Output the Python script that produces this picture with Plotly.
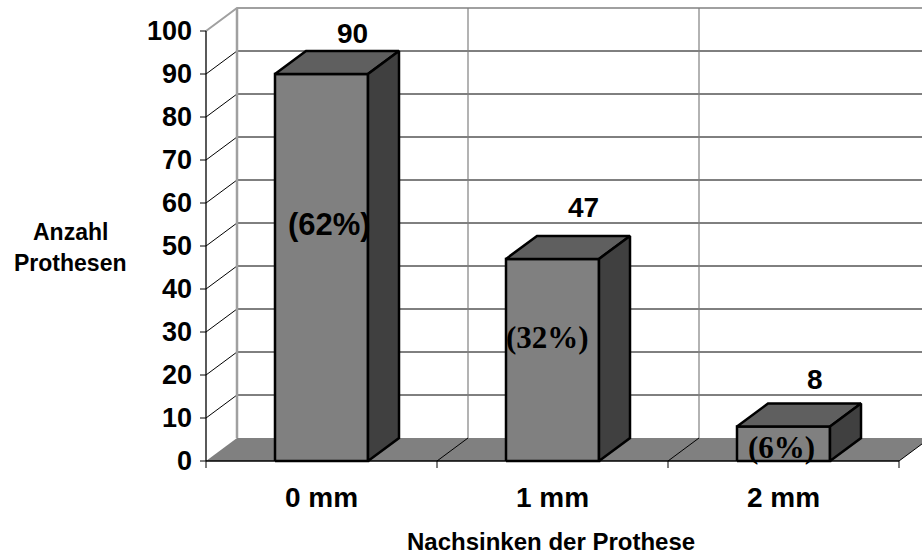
import plotly.graph_objects as go

# ---------------- data ----------------
categories = ["0 mm", "1 mm", "2 mm"]
counts = [90, 47, 8]
percent_labels = ["(62%)", "(32%)", "(6%)"]
y_ticks = [0, 10, 20, 30, 40, 50, 60, 70, 80, 90, 100]
x_title = "Nachsinken der Prothese"
y_title_lines = ["Anzahl", "Prothesen"]

# ---------------- geometry / style ----------------
W, H = 922, 554
PX_X0 = 206          # pixel of front-left corner (category axis start)
CAT_PX = 231         # pixels per category
PX_Y0 = 461          # pixel of value 0 on the front plane
V_PX = 4.3           # pixels per value unit
DX = 31 / CAT_PX     # depth offset (category units)
DY = 23 / V_PX       # depth offset (value units)
BAR_W = 93 / CAT_PX  # bar width (category units)
NCAT = len(categories)
VMAX = max(y_ticks)

x_range = [-PX_X0 / CAT_PX, (W - PX_X0) / CAT_PX]
y_range = [-(H - PX_Y0) / V_PX, PX_Y0 / V_PX]

SANS = "Liberation Sans, Arial, sans-serif"
SERIF = "Liberation Serif, Times New Roman, serif"
FRONT_C = "#808080"
TOP_C = "#5f5f5f"
SIDE_C = "#404040"
FLOOR_C = "#808080"
WALL_EDGE = "#a0a0a0"

fig = go.Figure()


def poly(xs, ys, fill, lw=0, lc="black"):
    fig.add_trace(go.Scatter(
        x=list(xs) + [xs[0]], y=list(ys) + [ys[0]], mode="lines",
        fill="toself", fillcolor=fill,
        line=dict(color=lc, width=lw), hoverinfo="skip", showlegend=False))


def line(xs, ys, color="black", width=1):
    fig.add_trace(go.Scatter(
        x=xs, y=ys, mode="lines", line=dict(color=color, width=width),
        hoverinfo="skip", showlegend=False))


# floor
poly([0, DX, NCAT + DX, NCAT], [0, DY, DY, 0], FLOOR_C)

# gridlines on left wall + back wall
for v in y_ticks[1:-1]:
    line([0, DX, NCAT + DX], [v, v + DY, v + DY], "black", 1)
# top edge of walls
line([0, DX, NCAT + DX], [VMAX, VMAX + DY, VMAX + DY], WALL_EDGE, 2)
# back wall left edge
line([DX, DX], [DY, VMAX + DY], WALL_EDGE, 2.5)
# back wall vertical category lines
for k in range(1, NCAT):
    line([k + DX, k + DX], [DY, VMAX + DY], "#808080", 1.2)
# floor diagonals at category boundaries
for k in range(1, NCAT + 1):
    line([k, k + DX], [0, DY], "black", 1)

# front axes
line([0, 0], [0, VMAX], "black", 1.3)
line([0, NCAT], [0, 0], "black", 1.5)
for v in y_ticks:
    line([0, -6 / CAT_PX], [v, v], "black", 1)
for k in range(NCAT + 1):
    line([k, k], [0, -7 / V_PX], "black", 1)

# bars
for i, v in enumerate(counts):
    x0 = i + 0.5 - BAR_W / 2
    x1 = i + 0.5 + BAR_W / 2
    poly([x0, x1, x1, x0], [0, 0, v, v], FRONT_C, 2.5)
    poly([x0, x1, x1 + DX, x0 + DX], [v, v, v + DY, v + DY], TOP_C, 2.5)
    poly([x1, x1 + DX, x1 + DX, x1], [0, DY, v + DY, v], SIDE_C, 2.5)

annotations = []
# y tick labels
for v in y_ticks:
    annotations.append(dict(x=0, y=v, xref="x", yref="y", text=str(v),
                            xanchor="right", yanchor="middle", xshift=-12,
                            showarrow=False,
                            font=dict(family=SANS, size=27, color="black", weight="bold")))
# category labels
for i, c in enumerate(categories):
    annotations.append(dict(x=i + 0.5, y=0, xref="x", yref="y", text=c,
                            xanchor="center", yanchor="middle", yshift=-36,
                            showarrow=False,
                            font=dict(family=SANS, size=28, color="black", weight="bold")))
# value labels above bars
value_lift = [18, 28, 24]
for i, v in enumerate(counts):
    annotations.append(dict(x=i + 0.5 + DX, y=v + DY, xref="x", yref="y", text=str(v),
                            xanchor="center", yanchor="middle", yshift=value_lift[i],
                            showarrow=False,
                            font=dict(family=SANS, size=28, color="black", weight="bold")))
# percentage labels on bar fronts
pct_y = [55.0, 28.7, 3.2]
pct_xshift = [8, -5, -2]
pct_font = [SANS, SERIF, SERIF]
for i, t in enumerate(percent_labels):
    annotations.append(dict(x=i + 0.5, y=pct_y[i], xref="x", yref="y", text=t,
                            xanchor="center", yanchor="middle", xshift=pct_xshift[i],
                            showarrow=False,
                            font=dict(family=pct_font[i], size=31, color="black", weight="bold")))
# axis titles
annotations.append(dict(x=551 / W, y=1 - 541 / H, xref="paper", yref="paper", text=x_title,
                        xanchor="center", yanchor="middle", showarrow=False,
                        font=dict(family=SANS, size=24, color="black", weight="bold")))
for j, t in enumerate(y_title_lines):
    annotations.append(dict(x=70 / W, y=1 - (232 + 31 * j) / H, xref="paper", yref="paper",
                            text=t, xanchor="center", yanchor="middle", showarrow=False,
                            font=dict(family=SANS, size=23, color="black", weight="bold")))

fig.update_layout(
    width=W, height=H, margin=dict(l=0, r=0, t=0, b=0),
    paper_bgcolor="white", plot_bgcolor="white",
    xaxis=dict(range=x_range, visible=False, fixedrange=True),
    yaxis=dict(range=y_range, visible=False, fixedrange=True),
    annotations=annotations, showlegend=False,
)

fig.write_html("out.html")
